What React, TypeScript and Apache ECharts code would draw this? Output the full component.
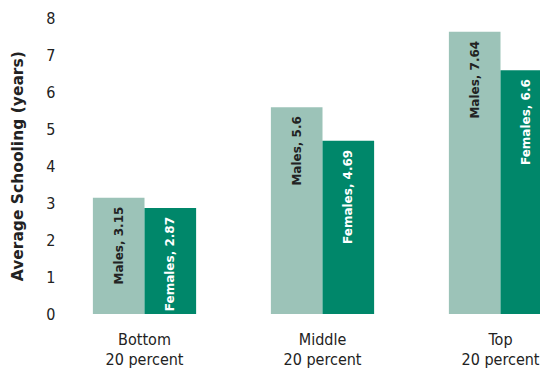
import React, { useEffect, useRef } from "react";
import * as echarts from "echarts";

const categories = ["Bottom\n20 percent", "Middle\n20 percent", "Top\n20 percent"];
const males = [3.15, 5.6, 7.64];
const females = [2.87, 4.69, 6.6];
const yTicks = [0, 8, 1];

export default function App() {
  const ref = useRef<HTMLDivElement>(null);
  useEffect(() => {
    const chart = echarts.init(ref.current!, null, { renderer: "svg" });
    const font = "DejaVu Sans";
    const cond = "'DejaVu Sans Condensed', 'DejaVu Sans'";
    chart.setOption({
      animation: false,
      textStyle: { fontFamily: font },
      grid: { left: 55.5, right: 0.5, top: 18.5, bottom: 50, containLabel: false },
      xAxis: {
        type: "category",
        data: categories,
        axisLine: { show: false },
        axisTick: { show: false },
        axisLabel: { color: "#222", fontSize: 16, fontFamily: cond, lineHeight: 20, margin: 15 },
      },
      yAxis: {
        type: "value",
        min: yTicks[0],
        max: yTicks[1],
        interval: yTicks[2],
        name: "Average Schooling (years)",
        nameLocation: "middle",
        nameGap: 30,
        nameTextStyle: { fontSize: 15.5, fontWeight: "bold", color: "#222", fontFamily: font },
        splitLine: { show: false },
        axisLine: { show: false },
        axisTick: { show: false },
        axisLabel: { color: "#222", fontSize: 16, fontFamily: cond, margin: 0, padding: [5, 0, 0, 0] },
      },
      series: [
        {
          type: "bar",
          name: "Males",
          data: males,
          barGap: "0%",
          barCategoryGap: "42%",
          itemStyle: { color: "#9cc3b8" },
          label: {
            show: true,
            position: "insideTop",
            rotate: 90,
            align: "right",
            verticalAlign: "middle",
            distance: 9,
            formatter: (p: any) => `Males, ${p.value}`,
            color: "#222",
            fontWeight: "bold",
            fontSize: 12,
            fontFamily: font,
          },
        },
        {
          type: "bar",
          name: "Females",
          data: females,
          itemStyle: { color: "#00876a" },
          label: {
            show: true,
            position: "insideTop",
            rotate: 90,
            align: "right",
            verticalAlign: "middle",
            distance: 9,
            formatter: (p: any) => `Females, ${p.value}`,
            color: "#fff",
            fontWeight: "bold",
            fontSize: 12,
            fontFamily: font,
          },
        },
      ],
    });
    return () => chart.dispose();
  }, []);
  return (
    <div style={{ width: 540, height: 369, position: "absolute", left: 0, top: 0, overflow: "hidden" }}>
      <div ref={ref} style={{ width: 590, height: 369 }} />
    </div>
  );
}
